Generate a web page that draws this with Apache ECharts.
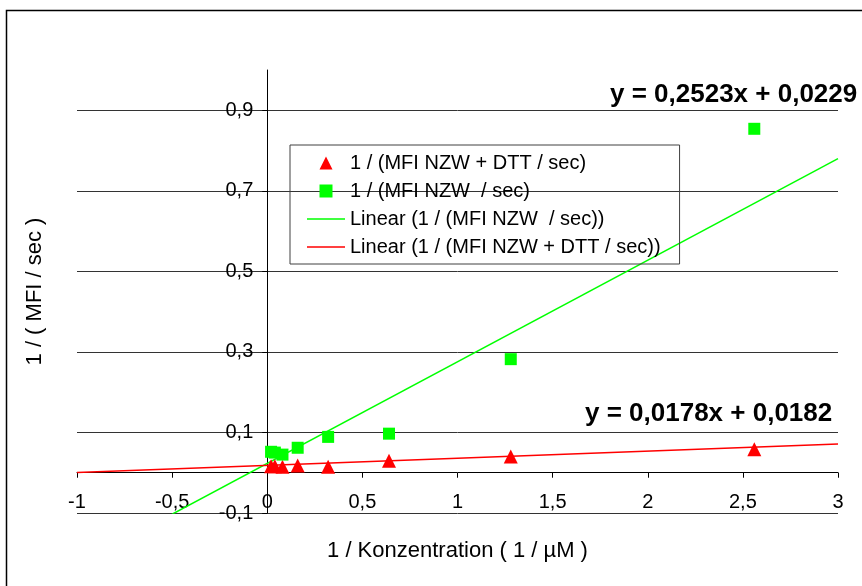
<!DOCTYPE html>
<html>
<head>
<meta charset="utf-8">
<script src="https://cdn.jsdelivr.net/npm/echarts@6/dist/echarts.min.js"></script>
<style>
  html, body { margin: 0; padding: 0; background: #fff; }
</style>
</head>
<body>
<div id="chart" style="width:862px; height:586px;"></div>
<script>
// x = 1 / concentration (1/µM)
const xVals = [0.02, 0.04, 0.08, 0.16, 0.32, 0.64, 1.28, 2.56];
const dttVals = [0.016, 0.016, 0.015, 0.018, 0.015, 0.030, 0.040, 0.058];
const nzwVals = [0.052, 0.050, 0.045, 0.062, 0.089, 0.097, 0.282, 0.854];
// trend line end points
const nzwTrend = [[-0.5, -0.103], [3, 0.780]];
const dttTrend = [[-1, 0.0004], [3, 0.0716]];
const nzwEq = 'y = 0,2523x + 0,0229';
const dttEq = 'y = 0,0178x + 0,0182';

const FONT = 'Liberation Sans, Arial, sans-serif';
const fmt = v => String(Math.round(v * 10) / 10).replace('.', ',');

const pairs = (xs, ys) => xs.map((x, i) => [x, ys[i]]);

// legend icons (keep aspect so they don't get stretched)
const triIcon = 'path://M0,1L0.5,0L1,1Z';
const sqIcon = 'path://M0,0L1,0L1,1L0,1Z';
const lineIcon = 'path://M0,0L38,0L38,1.5L0,1.5Z';

// grid box
const G = { left: 77, right: 24, top: 70, bottom: 73 };
const plotW = 862 - G.left - G.right;
const plotH = 586 - G.top - G.bottom;
// shift the axes so they cross at (0, 0)
const yAxisShift = plotW * (0 - -1) / (3 - -1);
const xAxisShift = plotH * (0 - -0.1) / (1.0 - -0.1);

let option = {
  animation: false,
  backgroundColor: '#fff',
  textStyle: { fontFamily: FONT },
  grid: { left: G.left, right: G.right, top: G.top, bottom: G.bottom, outerBoundsMode: 'none', containLabel: false },
  legend: {
    orient: 'vertical',
    left: 290,
    top: 145,
    padding: [8, 19, 7, 17],
    itemWidth: 38,
    itemHeight: 13,
    itemGap: 8,
    borderColor: '#404040',
    borderWidth: 1,
    textStyle: { fontFamily: FONT, fontSize: 20, color: '#000' },
    data: [
      { name: '1 / (MFI NZW + DTT / sec)', icon: triIcon },
      { name: '1 / (MFI NZW  / sec)', icon: sqIcon },
      { name: 'Linear (1 / (MFI NZW  / sec))', icon: lineIcon },
      { name: 'Linear (1 / (MFI NZW + DTT / sec))', icon: lineIcon }
    ]
  },
  xAxis: {
    type: 'value',
    min: -1,
    max: 3,
    interval: 0.5,
    position: 'bottom',
    offset: -xAxisShift,
    name: '1 / Konzentration ( 1 / µM )',
    nameLocation: 'middle',
    nameGap: 67,
    nameTextStyle: { fontFamily: FONT, fontSize: 22, color: '#000' },
    axisLine: { onZero: false, lineStyle: { color: '#000', width: 1 } },
    axisTick: { length: 5, lineStyle: { color: '#000' } },
    axisLabel: { fontFamily: FONT, fontSize: 20, color: '#000', margin: 20, formatter: fmt },
    splitLine: { show: false }
  },
  yAxis: {
    type: 'value',
    min: -0.1,
    max: 1.0,
    interval: 0.2,
    position: 'left',
    offset: -yAxisShift,
    name: '1 / ( MFI / sec )',
    nameLocation: 'middle',
    nameGap: 221,
    nameTextStyle: { fontFamily: FONT, fontSize: 22, color: '#000' },
    axisLine: { onZero: false, lineStyle: { color: '#000', width: 1 } },
    axisTick: { length: 5, lineStyle: { color: '#000' } },
    axisLabel: { fontFamily: FONT, fontSize: 20, color: '#000', margin: 14, formatter: fmt, showMaxLabel: false },
    splitLine: { show: true, showMaxLine: false, lineStyle: { color: '#333', width: 1 } }
  },
  graphic: [
    {
      type: 'rect',
      shape: { x: 6.5, y: 10.5, width: 900, height: 700 },
      style: { fill: null, stroke: '#000', lineWidth: 1.5 },
      silent: true
    },
    {
      type: 'text',
      left: 610,
      top: 82,
      style: { text: nzwEq, fontFamily: FONT, fontSize: 26, fontWeight: 'bold', fill: '#000' }
    },
    {
      type: 'text',
      left: 585,
      top: 401,
      style: { text: dttEq, fontFamily: FONT, fontSize: 26, fontWeight: 'bold', fill: '#000' }
    }
  ],
  series: [
    {
      name: 'Linear (1 / (MFI NZW  / sec))',
      type: 'line',
      data: nzwTrend,
      symbol: 'none',
      z: 2,
      lineStyle: { color: '#00ff00', width: 1.5 },
      itemStyle: { color: '#00ff00' }
    },
    {
      name: 'Linear (1 / (MFI NZW + DTT / sec))',
      type: 'line',
      data: dttTrend,
      symbol: 'none',
      z: 2,
      lineStyle: { color: '#ff0000', width: 1.5 },
      itemStyle: { color: '#ff0000' }
    },
    {
      name: '1 / (MFI NZW + DTT / sec)',
      type: 'scatter',
      data: pairs(xVals, dttVals),
      symbol: 'triangle',
      symbolSize: 14,
      z: 3,
      itemStyle: { color: '#ff0000', opacity: 1 }
    },
    {
      name: '1 / (MFI NZW  / sec)',
      type: 'scatter',
      data: pairs(xVals, nzwVals),
      symbol: 'rect',
      symbolSize: 12,
      z: 3,
      itemStyle: { color: '#00ff00', opacity: 1 }
    }
  ]
};

let mychart = echarts.init(document.getElementById('chart'));
mychart.setOption(option);
</script>
</body>
</html>
